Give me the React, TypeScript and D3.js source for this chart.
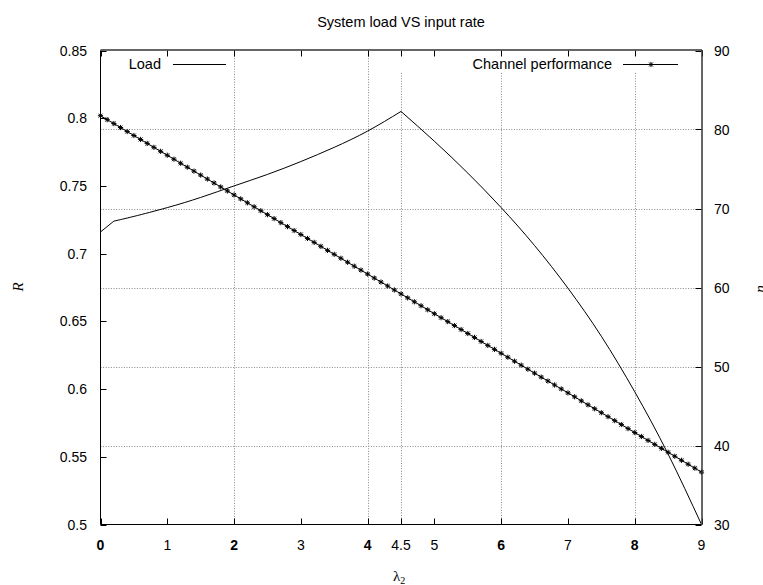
import React from "react";
import * as d3 from "d3";

// ---------- data ----------
const loadX = [0, 0.2, 0.5, 1, 1.5, 2, 2.5, 3, 3.5, 4, 4.5, 5, 5.5, 6, 6.5, 7, 7.5, 8, 8.5, 9];
const loadY = [0.716, 0.724, 0.7275, 0.734, 0.7415, 0.75, 0.7585, 0.768, 0.7785, 0.7905, 0.805, 0.783, 0.7595, 0.734, 0.706, 0.6745, 0.639, 0.598, 0.552, 0.5];

const channelX = [
  0, 0.1, 0.2, 0.3, 0.4, 0.5, 0.6, 0.7, 0.8, 0.9,
  1, 1.1, 1.2, 1.3, 1.4, 1.5, 1.6, 1.7, 1.8, 1.9,
  2, 2.1, 2.2, 2.3, 2.4, 2.5, 2.6, 2.7, 2.8, 2.9,
  3, 3.1, 3.2, 3.3, 3.4, 3.5, 3.6, 3.7, 3.8, 3.9,
  4, 4.1, 4.2, 4.3, 4.4, 4.5, 4.6, 4.7, 4.8, 4.9,
  5, 5.1, 5.2, 5.3, 5.4, 5.5, 5.6, 5.7, 5.8, 5.9,
  6, 6.1, 6.2, 6.3, 6.4, 6.5, 6.6, 6.7, 6.8, 6.9,
  7, 7.1, 7.2, 7.3, 7.4, 7.5, 7.6, 7.7, 7.8, 7.9,
  8, 8.1, 8.2, 8.3, 8.4, 8.5, 8.6, 8.7, 8.8, 8.9,
  9,
];
const channelY = [
  81.75, 81.25, 80.75, 80.25, 79.74, 79.24, 78.74, 78.24, 77.74, 77.24,
  76.74, 76.24, 75.73, 75.23, 74.73, 74.23, 73.73, 73.23, 72.73, 72.22,
  71.72, 71.22, 70.72, 70.22, 69.72, 69.22, 68.72, 68.21, 67.71, 67.21,
  66.71, 66.21, 65.71, 65.21, 64.7, 64.2, 63.7, 63.2, 62.7, 62.2,
  61.7, 61.2, 60.69, 60.19, 59.69, 59.19, 58.69, 58.19, 57.69, 57.18,
  56.68, 56.18, 55.68, 55.18, 54.68, 54.18, 53.68, 53.17, 52.67, 52.17,
  51.67, 51.17, 50.67, 50.17, 49.66, 49.16, 48.66, 48.16, 47.66, 47.16,
  46.66, 46.16, 45.65, 45.15, 44.65, 44.15, 43.65, 43.15, 42.65, 42.14,
  41.64, 41.14, 40.64, 40.14, 39.64, 39.14, 38.64, 38.13, 37.63, 37.13,
  36.63,
];

const xTicks = [0, 1, 2, 3, 4, 4.5, 5, 6, 7, 8, 9];
const xTickLabels = ["0", "1", "2", "3", "4", "4.5", "5", "6", "7", "8", "9"];
const xBoldTicks = [0, 2, 4, 6, 8];
const xGridFull = [2, 4];
const xGridShort = [4.5, 6, 8];
const yLeftTicks = [0.5, 0.55, 0.6, 0.65, 0.7, 0.75, 0.8, 0.85];
const yLeftLabels = ["0.5", "0.55", "0.6", "0.65", "0.7", "0.75", "0.8", "0.85"];
const yRightTicks = [30, 40, 50, 60, 70, 80, 90];
const yRightGrid = [40, 50, 60, 70, 80];

const title = "System load VS input rate";
const loadName = "Load";
const channelName = "Channel performance";

// ---------- layout ----------
const W = 763;
const H = 585;
const L = 100.5;
const R = 701.5;
const T = 50.5;
const B = 524.5;
const FONT = "'Liberation Sans', Arial, sans-serif";
const SERIF = "'Liberation Serif', 'DejaVu Serif', serif";

const x = d3.scaleLinear().domain([0, 9]).range([L, R]);
const yL = d3.scaleLinear().domain([0.5, 0.85]).range([B, T]);
const yR = d3.scaleLinear().domain([30, 90]).range([B, T]);

function Asterisk({ cx, cy, s = 2.6 }: { cx: number; cy: number; s?: number }) {
  const d = s * 0.75;
  return (
    <g stroke="#000" strokeWidth={1}>
      <line x1={cx - s} y1={cy} x2={cx + s} y2={cy} />
      <line x1={cx} y1={cy - s} x2={cx} y2={cy + s} />
      <line x1={cx - d} y1={cy - d} x2={cx + d} y2={cy + d} />
      <line x1={cx - d} y1={cy + d} x2={cx + d} y2={cy - d} />
    </g>
  );
}

export default function App() {
  const loadPts: [number, number][] = loadX.map((v, i) => [v, loadY[i]]);
  const iKink = loadX.indexOf(0.2);
  let iPeak = 0;
  loadY.forEach((v, i) => {
    if (v > loadY[iPeak]) iPeak = i;
  });
  const lineLin = d3.line<[number, number]>().x((d) => x(d[0])).y((d) => yL(d[1]));
  const lineSmooth = d3
    .line<[number, number]>()
    .x((d) => x(d[0]))
    .y((d) => yL(d[1]))
    .curve(d3.curveNatural);
  const seg1 = lineLin(loadPts.slice(0, iKink + 1)) || "";
  const seg2 = lineSmooth(loadPts.slice(iKink, iPeak + 1)) || "";
  const seg3 = lineSmooth(loadPts.slice(iPeak)) || "";

  const chPts: [number, number][] = channelX.map((v, i) => [v, channelY[i]]);
  const chLine = d3.line<[number, number]>().x((d) => x(d[0])).y((d) => yR(d[1]))(chPts) || "";

  const gridStyle = { stroke: "#8a8a8a", strokeWidth: 1, strokeDasharray: "1,1.6" };

  return (
    <svg
      width={W}
      height={H}
      style={{ position: "absolute", left: 0, top: 0, background: "#fff" }}
      fontFamily={FONT}
    >
      <rect x={0} y={0} width={W} height={H} fill="#fff" />
      {/* title */}
      <text x={401} y={27} textAnchor="middle" fontSize={14.5}>
        {title}
      </text>

      {/* grid */}
      {yRightGrid.map((v) => (
        <line key={"hg" + v} x1={L} x2={R} y1={Math.round(yR(v)) + 0.5} y2={Math.round(yR(v)) + 0.5} {...gridStyle} />
      ))}
      {xGridFull.map((v) => (
        <line key={"vg" + v} x1={Math.round(x(v)) + 0.5} x2={Math.round(x(v)) + 0.5} y1={T} y2={B} {...gridStyle} />
      ))}
      {xGridShort.map((v) => (
        <line key={"vgs" + v} x1={Math.round(x(v)) + 0.5} x2={Math.round(x(v)) + 0.5} y1={73} y2={B} {...gridStyle} />
      ))}

      {/* ticks */}
      {xTicks.map((v) => {
        const px = Math.round(x(v)) + 0.5;
        return (
          <g key={"xt" + v} stroke="#000" strokeWidth={1}>
            <line x1={px} x2={px} y1={B} y2={B - 6} />
            <line x1={px} x2={px} y1={T} y2={T + 6} />
          </g>
        );
      })}
      {yLeftTicks.map((v) => {
        const py = Math.round(yL(v)) + 0.5;
        return <line key={"yl" + v} x1={L} x2={L + 6} y1={py} y2={py} stroke="#000" />;
      })}
      {yRightTicks.map((v) => {
        const py = Math.round(yR(v)) + 0.5;
        return <line key={"yr" + v} x1={R - 6} x2={R} y1={py} y2={py} stroke="#000" />;
      })}

      {/* tick labels */}
      {xTicks.map((v, i) => (
        <text
          key={"xl" + v}
          x={x(v)}
          y={550}
          textAnchor="middle"
          fontSize={14}
          fontWeight={xBoldTicks.includes(v) ? "bold" : "normal"}
        >
          {xTickLabels[i]}
        </text>
      ))}
      {yLeftTicks.map((v, i) => (
        <text key={"yll" + v} x={87} y={yL(v) + 5} textAnchor="end" fontSize={14}>
          {yLeftLabels[i]}
        </text>
      ))}
      {yRightTicks.map((v) => (
        <text key={"yrl" + v} x={714} y={yR(v) + 5} textAnchor="start" fontSize={14}>
          {v}
        </text>
      ))}

      {/* axis labels */}
      <text x={393} y={581} fontFamily={SERIF} fontSize={15}>
        λ
        <tspan fontSize={10} dy={2.5}>
          2
        </tspan>
      </text>
      <text
        transform="translate(23,287) rotate(-90)"
        textAnchor="middle"
        fontFamily={SERIF}
        fontStyle="italic"
        fontSize={15}
      >
        R
      </text>
      <text
        transform="translate(765,289) rotate(-90)"
        textAnchor="middle"
        fontFamily={SERIF}
        fontStyle="italic"
        fontSize={15}
      >
        η
      </text>

      {/* data */}
      <path d={seg1} fill="none" stroke="#000" strokeWidth={1} />
      <path d={seg2} fill="none" stroke="#000" strokeWidth={1} />
      <path d={seg3} fill="none" stroke="#000" strokeWidth={1} />
      <path d={chLine} fill="none" stroke="#000" strokeWidth={1} />
      {chPts.map((d, i) => (
        <Asterisk key={"m" + i} cx={x(d[0])} cy={yR(d[1])} />
      ))}

      {/* legend */}
      <text x={161} y={69} textAnchor="end" fontSize={14.5}>
        {loadName}
      </text>
      <line x1={173} x2={226} y1={64.5} y2={64.5} stroke="#000" />
      <text x={612} y={69} textAnchor="end" fontSize={14.5}>
        {channelName}
      </text>
      <line x1={623} x2={678} y1={64.5} y2={64.5} stroke="#000" />
      <Asterisk cx={651} cy={64.5} />

      {/* border */}
      <line x1={L} x2={L} y1={T} y2={B} stroke="#000" />
      <line x1={L} x2={R} y1={B} y2={B} stroke="#000" />
      <line x1={L} x2={R + 0.5} y1={T - 0.5} y2={T - 0.5} stroke="#333" strokeWidth={1.5} />
      <line x1={R + 0.5} x2={R + 0.5} y1={T - 0.5} y2={B} stroke="#333" strokeWidth={1.5} />
    </svg>
  );
}
